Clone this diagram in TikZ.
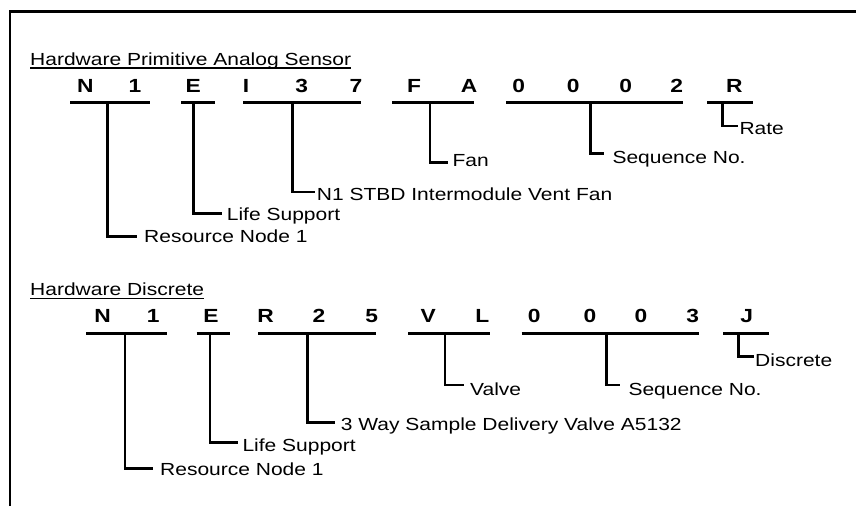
\documentclass[tikz,border=0pt]{standalone}
\usepackage{fontspec}
\setmainfont[FakeStretch=1.2]{Liberation Sans}
\begin{document}
\begin{tikzpicture}[x=1pt,y=-1pt,
  frame/.style={line width=2.6pt},
  bar/.style={line width=3pt},
  lead/.style={line width=2.8pt},
  uline/.style={line width=1.3pt},
  title/.style={anchor=base west,inner sep=0pt,font=\fontsize{17.5}{20}\selectfont},
  lbl/.style={anchor=base west,inner sep=0pt,font=\fontsize{17.5}{20}\selectfont},
  chr/.style={anchor=base,inner sep=0pt,font=\fontsize{19}{20}\selectfont\bfseries}]
\useasboundingbox (0,0) rectangle (856,506);
% frame (top and left edges only)
\coordinate (fbl) at (10,506);
\coordinate (ftl) at (10,11.5);
\coordinate (ftr) at (856,11.5);
\draw[frame] (fbl) -- (ftl) -- (ftr);

% ---------------- top section ----------------
\node[title] (t1) at (30,65) {Hardware Primitive Analog Sensor};
\draw[uline] ([yshift=-3pt]t1.base west) -- ([yshift=-3pt]t1.base east);
\foreach \x/\c/\n in {85.3/N/a1,135/1/a2,193.3/E/a3,246/I/a4,301.7/3/a5,356/7/a6,414/F/a7,469/A/a8,518.7/0/a9,573.3/0/a10,625.7/0/a11,676.7/2/a12,734.3/R/a13}
  \node[chr] (\n) at (\x,92.3) {\c};
% bars
\coordinate (p1s) at (70,102);    \coordinate (p1e) at (150,102);
\coordinate (p2s) at (181,102);   \coordinate (p2e) at (215,102);
\coordinate (p3s) at (243.3,102); \coordinate (p3e) at (360.7,102);
\coordinate (p4s) at (392.3,102); \coordinate (p4e) at (474.3,102);
\coordinate (p5s) at (506,102);   \coordinate (p5e) at (682.7,102);
\coordinate (p6s) at (707.3,102); \coordinate (p6e) at (752.7,102);
\foreach \i in {1,...,6} \draw[bar] (p\i s) -- (p\i e);
% bar taps
\coordinate (q1) at (107.7,102);
\coordinate (q2) at (193.3,102);
\coordinate (q3) at (292.3,102);
\coordinate (q4) at (430,102);
\coordinate (q5) at (590.7,102);
\coordinate (q6) at (722.7,102);
% labels
\node[lbl] (u1) at (144,242.7) {Resource Node 1};
\node[lbl] (u2) at (226.7,220) {Life Support};
\node[lbl] (u3) at (316.7,200) {N1 STBD Intermodule Vent Fan};
\node[lbl] (u4) at (452.3,166) {Fan};
\node[lbl] (u5) at (612.3,163.3) {Sequence No.};
\node[lbl] (u6) at (739.3,134.3) {Rate};
% leader ends
\coordinate (r1) at (136.7,236.7);
\coordinate (r2) at (221.7,213.3);
\coordinate (r3) at (315,192);
\coordinate (r4) at (447.7,162.7);
\coordinate (r5) at (604.3,153.3);
\coordinate (r6) at (738,126);
\foreach \i in {1,...,6} \draw[lead] (q\i) |- (r\i);

% ---------------- bottom section ----------------
\node[title] (t2) at (30,295.7) {Hardware Discrete\ };
\draw[uline] ([yshift=-2.6pt]t2.base west) -- ([yshift=-2.6pt]t2.base east);
\foreach \x/\c/\n in {102.7/N/b1,153.3/1/b2,211/E/b3,265.7/R/b4,319/2/b5,371.7/5/b6,428.3/V/b7,482.3/L/b8,534.3/0/b9,590/0/b10,641/0/b11,692.7/3/b12,746.7/J/b13}
  \node[chr] (\n) at (\x,322.7) {\c};
\coordinate (s1s) at (86,333.3);    \coordinate (s1e) at (166.7,333.3);
\coordinate (s2s) at (196.7,333.3); \coordinate (s2e) at (230,333.3);
\coordinate (s3s) at (258.3,333.3); \coordinate (s3e) at (375.7,333.3);
\coordinate (s4s) at (408.3,333.3); \coordinate (s4e) at (490,333.3);
\coordinate (s5s) at (521.7,333.3); \coordinate (s5e) at (699,333.3);
\coordinate (s6s) at (723.3,333.3); \coordinate (s6e) at (769.3,333.3);
\foreach \i in {1,...,6} \draw[bar] (s\i s) -- (s\i e);
\coordinate (w1) at (125,333.3);
\coordinate (w2) at (210,333.3);
\coordinate (w3) at (307.3,333.3);
\coordinate (w4) at (445,333.3);
\coordinate (w5) at (606.7,333.3);
\coordinate (w6) at (738.3,333.3);
\node[lbl] (v1) at (160,475) {Resource Node 1};
\node[lbl] (v2) at (242.3,451) {Life Support};
\node[lbl] (v3) at (340.7,430.7) {3 Way Sample Delivery Valve A5132};
\node[lbl] (v4) at (470,395) {Valve};
\node[lbl] (v5) at (628.3,395) {Sequence No.};
\node[lbl] (v6) at (755,366.7) {Discrete};
\coordinate (z1) at (153.3,468.3);
\coordinate (z2) at (238.3,442.7);
\coordinate (z3) at (335,422.3);
\coordinate (z4) at (464.3,385);
\coordinate (z5) at (620,385);
\coordinate (z6) at (754.3,356.7);
\foreach \i in {1,...,6} \draw[lead] (w\i) |- (z\i);
\end{tikzpicture}
\end{document}
